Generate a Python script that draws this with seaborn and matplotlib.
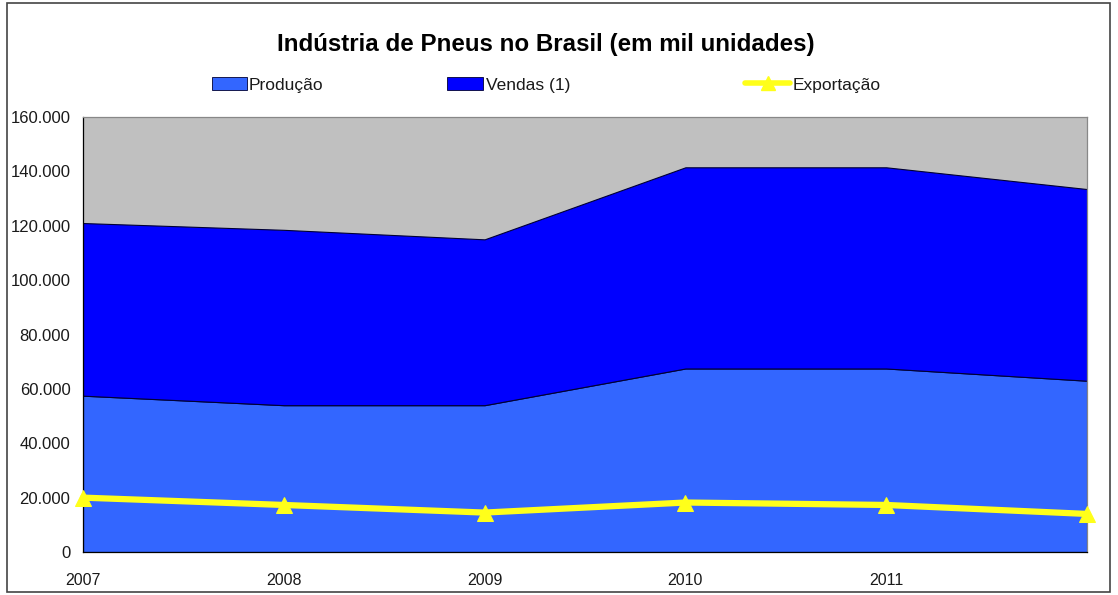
import matplotlib
matplotlib.use("Agg")
import matplotlib.pyplot as plt
import seaborn as sns
import pandas as pd
from matplotlib.patches import Rectangle, Patch
from matplotlib.ticker import FuncFormatter
from matplotlib.lines import Line2D

years = [2007, 2008, 2009, 2010, 2011, 2012]
year_labels = ["2007", "2008", "2009", "2010", "2011", ""]
producao = [57500, 54000, 54000, 67500, 67500, 63000]
vendas = [63500, 64500, 61000, 74000, 74000, 70500]
exportacao = [20000, 17300, 14500, 18200, 17300, 14000]
y_ticks = [0, 20000, 40000, 60000, 80000, 100000, 120000, 140000, 160000]
series_names = ["Produção", "Vendas (1)", "Exportação"]

sns.set_theme(style="white")
plt.rcParams['font.family'] = ['Liberation Sans', 'DejaVu Sans']

fig = plt.figure(figsize=(11.18, 5.95), dpi=100)
ax = fig.add_axes([83/1118, 1-552/595, (1087-83)/1118, (552-117)/595])

df = pd.DataFrame({"x": list(range(len(years))), "Exportação": exportacao})

ax.set_facecolor("#C0C0C0")
ax.stackplot(df["x"], producao, vendas, colors=["#3366FF", "#0000FF"],
             edgecolor="#000033", linewidth=0.8, zorder=2)
sns.lineplot(data=df, x="x", y="Exportação", ax=ax, color="#FFFF1A", linewidth=4.5,
             marker="^", markersize=11, markeredgecolor="#FFFF1A", zorder=3, clip_on=False)

ax.set_xlim(0, 5)
ax.set_ylim(0, 160000)
ax.set_xticks(range(len(years)))
ax.set_xticklabels(year_labels)
ax.set_yticks(y_ticks)
ax.yaxis.set_major_formatter(FuncFormatter(lambda v, p: f"{int(v):,}".replace(",", ".")))
ax.set_xlabel("")
ax.set_ylabel("")
ax.tick_params(axis="both", which="major", direction="out", length=4, width=0.8,
               colors="black")
ax.tick_params(axis="y", labelsize=12, pad=5)
ax.tick_params(axis="x", labelsize=11.5, pad=11)
for lbl in ax.get_xticklabels() + ax.get_yticklabels():
    lbl.set_color("#1a1a1a")
ax.spines["left"].set_color("black")
ax.spines["bottom"].set_color("black")
ax.spines["top"].set_color("#888888")
ax.spines["right"].set_color("#888888")
for s in ax.spines.values():
    s.set_linewidth(0.9)
ax.grid(False)
if ax.get_legend() is not None:
    ax.get_legend().remove()

fig.text(546/1118, 1-45/595, "Indústria de Pneus no Brasil (em mil unidades)", ha="center", va="center",
         fontsize=17.4, fontweight="bold", color="black")

handles = [
    Patch(facecolor="#3366FF", edgecolor="#000033", linewidth=0.6),
    Patch(facecolor="#0000FF", edgecolor="#000033", linewidth=0.6),
    Line2D([0], [0], color="#FFFF1A", linewidth=4, marker="^", markersize=10),
]
starts = [212, 447, 745]
hlens = [2.0, 2.1, 2.6]
for h, name, x0, hl in zip(handles, series_names, starts, hlens):
    leg = fig.legend([h], [name], loc="center left", bbox_to_anchor=(x0/1118, 1-85/595),
                     frameon=False, fontsize=12.5, borderpad=0, borderaxespad=0,
                     handlelength=hl, handletextpad=0.12, handleheight=0.75, numpoints=1)
    for t in leg.get_texts():
        t.set_color("#1a1a1a")

fig.patches.append(Rectangle((7/1118, 3/595), 1103/1118, 589/595, transform=fig.transFigure,
                             fill=False, edgecolor="#444444", linewidth=1.2))

fig.savefig("out.png", dpi=100)
